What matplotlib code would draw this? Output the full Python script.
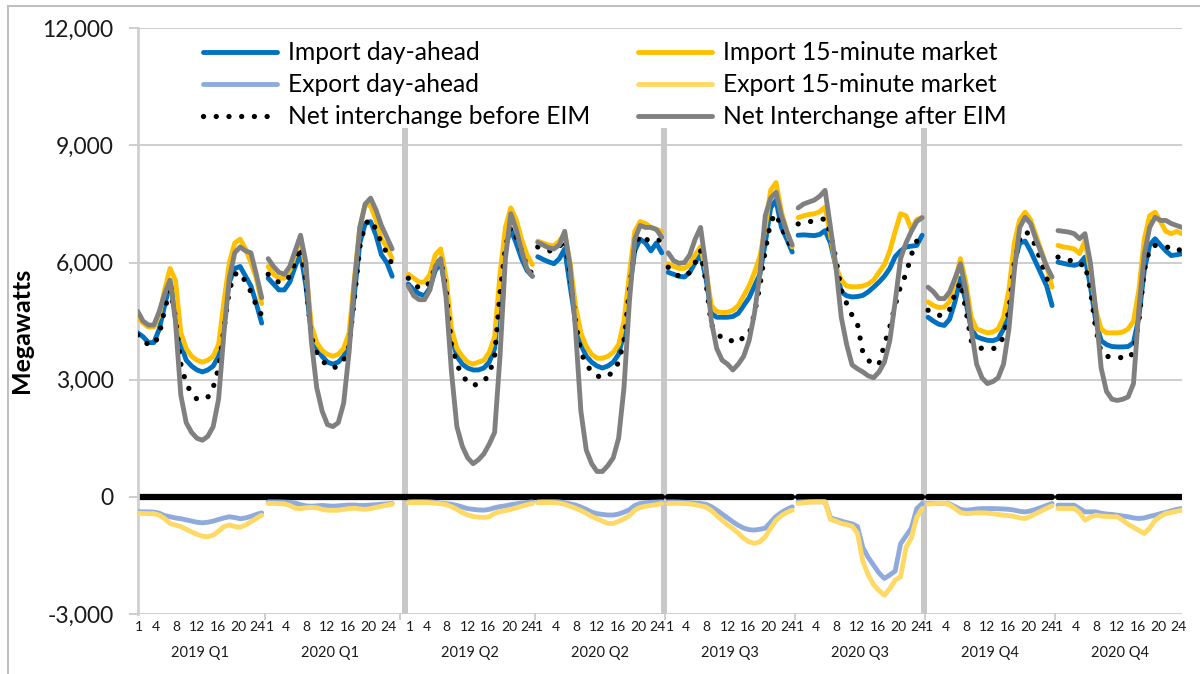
import matplotlib.pyplot as plt
from matplotlib.lines import Line2D
import numpy as np

plt.rcParams['font.family'] = ['Lato', 'DejaVu Sans']

# ---- data ----
groups = ['2019 Q1', '2020 Q1', '2019 Q2', '2020 Q2', '2019 Q3', '2020 Q3', '2019 Q4', '2020 Q4']
hours = list(range(1, 25))
hour_labels = [1, 4, 8, 12, 16, 20, 24]
y_ticks = [-3000, 0, 3000, 6000, 9000, 12000]
y_tick_labels = ['-3,000', '0', '3,000', '6,000', '9,000', '12,000']

import_da = [
    [4200, 4100, 3950, 3950, 4300, 4900, 5500, 5000, 3900, 3500, 3350, 3250, 3200, 3250, 3350, 3600, 4600, 5500, 5850, 5900, 5650, 5400, 4950, 4450],
    [5600, 5450, 5300, 5300, 5500, 5900, 6250, 5400, 4200, 3800, 3600, 3450, 3400, 3450, 3600, 3900, 5200, 6500, 7000, 7050, 6700, 6200, 6000, 5650],
    [5450, 5300, 5200, 5150, 5350, 5800, 6000, 5300, 4100, 3600, 3400, 3300, 3250, 3250, 3300, 3450, 3800, 5300, 6400, 6850, 6500, 6100, 5800, 5650],
    [6150, 6080, 6020, 5970, 6100, 6350, 5400, 4500, 3900, 3600, 3450, 3350, 3300, 3350, 3450, 3650, 4200, 5300, 6300, 6600, 6500, 6300, 6500, 6250],
    [5750, 5700, 5650, 5630, 5750, 6000, 6220, 5600, 4700, 4600, 4600, 4600, 4620, 4700, 4900, 5100, 5400, 5700, 6500, 7400, 7600, 6900, 6600, 6270],
    [6700, 6710, 6700, 6690, 6720, 6820, 6500, 5900, 5250, 5150, 5120, 5130, 5160, 5250, 5370, 5500, 5650, 5850, 6150, 6300, 6400, 6420, 6440, 6700],
    [4600, 4500, 4420, 4390, 4550, 5000, 5600, 5000, 4300, 4100, 4050, 4010, 4000, 4050, 4300, 4900, 6000, 6500, 6550, 6300, 6000, 5700, 5400, 4900],
    [6010, 5980, 5950, 5930, 5970, 6140, 5400, 4500, 4000, 3900, 3850, 3840, 3840, 3850, 3950, 4600, 5800, 6450, 6610, 6450, 6300, 6180, 6200, 6225],
]
import_15 = [
    [4600, 4450, 4350, 4350, 4650, 5300, 5850, 5550, 4200, 3800, 3600, 3500, 3450, 3500, 3600, 3900, 5000, 6000, 6500, 6600, 6350, 6000, 5600, 4950],
    [5900, 5700, 5600, 5600, 5800, 6200, 6650, 5800, 4400, 3950, 3750, 3650, 3600, 3650, 3800, 4200, 5600, 6900, 7500, 7450, 7100, 6600, 6400, 6100],
    [5700, 5600, 5500, 5500, 5700, 6200, 6350, 5600, 4300, 3800, 3600, 3450, 3400, 3450, 3500, 3700, 4100, 5700, 6900, 7400, 7100, 6600, 6200, 5950],
    [6550, 6500, 6450, 6430, 6550, 6750, 6000, 4900, 4200, 3850, 3650, 3550, 3550, 3600, 3700, 3900, 4500, 5700, 6800, 7050, 7000, 6900, 6850, 6800],
    [5970, 5900, 5850, 5850, 5950, 6200, 6400, 5800, 4900, 4750, 4720, 4730, 4780, 4900, 5150, 5400, 5750, 6150, 6900, 7850, 8050, 7300, 6800, 6400],
    [7150, 7200, 7230, 7250, 7300, 7420, 6700, 5900, 5550, 5400, 5380, 5380, 5400, 5450, 5550, 5750, 5950, 6300, 6800, 7250, 7200, 6850, 7100, 7160],
    [4990, 4900, 4850, 4860, 5000, 5500, 6100, 5500, 4600, 4300, 4250, 4200, 4220, 4300, 4600, 5300, 6500, 7100, 7290, 7100, 6700, 6300, 5900, 5370],
    [6440, 6400, 6380, 6350, 6230, 6560, 5800, 4800, 4300, 4200, 4200, 4200, 4220, 4300, 4500, 5300, 6600, 7200, 7290, 7050, 6800, 6740, 6800, 6740],
]
export_da = [
    [-380, -385, -385, -390, -420, -480, -510, -540, -560, -590, -620, -650, -665, -650, -620, -580, -540, -510, -530, -560, -540, -500, -450, -410],
    [-130, -130, -130, -135, -140, -160, -200, -230, -240, -230, -220, -230, -240, -230, -220, -210, -210, -220, -220, -210, -200, -190, -180, -170],
    [-130, -125, -125, -125, -130, -140, -160, -175, -190, -220, -260, -300, -320, -335, -340, -320, -280, -250, -230, -200, -180, -160, -145, -130],
    [-130, -125, -125, -125, -130, -150, -180, -210, -260, -320, -390, -430, -450, -465, -465, -440, -390, -330, -220, -170, -150, -140, -135, -130],
    [-130, -130, -135, -140, -150, -160, -170, -190, -250, -340, -440, -540, -640, -730, -800, -840, -850, -830, -800, -650, -500, -400, -320, -256],
    [-130, -128, -125, -125, -125, -128, -540, -580, -620, -660, -690, -760, -1300, -1550, -1750, -1950, -2090, -2000, -1900, -1200, -1000, -800, -300, -170],
    [-170, -170, -170, -170, -180, -250, -320, -340, -330, -310, -300, -300, -300, -305, -310, -320, -340, -370, -385, -360, -320, -270, -220, -170],
    [-213, -213, -213, -213, -300, -384, -384, -384, -420, -440, -450, -470, -490, -510, -540, -553, -540, -500, -470, -430, -400, -360, -320, -298],
]
export_15 = [
    [-420, -425, -430, -430, -470, -560, -680, -720, -760, -830, -900, -960, -1010, -1020, -980, -880, -760, -720, -760, -780, -720, -640, -550, -470],
    [-170, -170, -175, -180, -220, -290, -300, -280, -270, -280, -320, -340, -345, -340, -320, -300, -290, -310, -320, -300, -270, -240, -210, -190],
    [-150, -145, -145, -145, -150, -160, -175, -200, -250, -320, -400, -460, -500, -520, -525, -510, -420, -380, -350, -320, -280, -240, -200, -170],
    [-150, -145, -145, -150, -160, -190, -240, -290, -350, -420, -500, -560, -620, -680, -680, -630, -560, -480, -340, -270, -240, -220, -200, -170],
    [-170, -165, -165, -170, -180, -200, -230, -260, -350, -480, -600, -720, -810, -930, -1060, -1150, -1190, -1150, -1020, -800, -600, -480, -400, -340],
    [-170, -150, -135, -130, -128, -128, -580, -620, -680, -710, -750, -930, -1650, -2000, -2250, -2400, -2520, -2350, -2130, -2050, -1300, -1050, -520, -300],
    [-187, -175, -170, -170, -200, -300, -400, -430, -420, -410, -410, -415, -430, -450, -470, -480, -500, -540, -553, -500, -430, -360, -290, -230],
    [-298, -298, -298, -298, -400, -597, -520, -469, -490, -500, -510, -512, -600, -700, -780, -860, -937, -800, -597, -500, -426, -400, -370, -341],
]
net_before = [
    [4150, 4000, 3900, 3900, 4150, 4800, 5300, 4600, 3400, 2900, 2650, 2500, 2500, 2550, 2800, 3300, 4300, 5300, 5700, 5750, 5500, 5250, 4900, 4650],
    [5700, 5550, 5500, 5500, 5650, 6000, 6400, 5500, 4100, 3700, 3500, 3350, 3300, 3350, 3500, 3850, 5100, 6400, 7000, 7100, 6850, 6500, 6250, 5950],
    [5600, 5450, 5350, 5350, 5500, 5900, 6100, 5300, 3900, 3400, 3100, 2950, 2850, 2900, 2950, 3150, 3600, 5200, 6400, 6900, 6650, 6300, 5900, 5700],
    [6400, 6350, 6300, 6300, 6400, 6600, 5700, 4500, 3700, 3400, 3200, 3100, 3050, 3100, 3200, 3450, 4000, 5300, 6400, 6700, 6600, 6550, 6600, 6550],
    [5880, 5750, 5650, 5630, 5750, 6000, 6300, 5500, 4400, 4220, 4050, 4000, 4000, 3950, 4100, 4150, 4700, 5400, 6300, 7050, 7250, 6900, 6600, 6350],
    [6990, 7010, 7040, 7080, 7100, 7120, 6740, 6100, 5300, 4950, 4650, 4430, 3700, 3500, 3380, 3400, 3900, 4350, 4900, 5400, 5700, 6200, 6550, 6750],
    [4780, 4700, 4650, 4650, 4800, 5200, 5500, 4800, 4000, 3850, 3800, 3790, 3790, 3850, 4100, 4800, 6000, 6600, 6800, 6700, 6400, 6000, 5600, 5290],
    [6140, 6100, 6075, 6000, 5930, 5970, 5300, 4300, 3700, 3600, 3580, 3580, 3560, 3540, 3700, 4500, 5800, 6350, 6440, 6400, 6400, 6380, 6300, 6350],
]
net_after = [
    [4750, 4500, 4400, 4400, 4750, 5200, 5550, 4500, 2600, 1900, 1650, 1500, 1450, 1550, 1800, 2500, 4200, 5600, 6250, 6400, 6300, 6250, 5700, 5100],
    [6100, 5900, 5750, 5700, 5900, 6300, 6700, 6000, 4000, 2800, 2200, 1850, 1800, 1900, 2400, 3700, 5500, 6900, 7500, 7650, 7350, 6950, 6650, 6350],
    [5400, 5150, 5050, 5050, 5300, 5900, 6100, 5100, 3200, 1800, 1300, 1000, 850, 950, 1100, 1350, 1650, 3600, 6100, 7250, 6850, 6300, 5850, 5650],
    [6520, 6450, 6380, 6350, 6450, 6800, 5900, 4300, 2200, 1200, 850, 650, 650, 800, 1000, 1500, 2800, 5000, 6600, 6950, 6900, 6900, 6850, 6650],
    [6250, 6050, 5980, 6000, 6200, 6600, 6900, 5900, 4500, 3800, 3500, 3400, 3250, 3400, 3600, 4000, 4700, 5700, 7200, 7650, 7800, 7200, 6800, 6450],
    [7400, 7500, 7550, 7600, 7700, 7850, 6900, 5900, 4600, 3900, 3380, 3280, 3200, 3100, 3050, 3200, 3450, 4000, 5000, 6100, 6500, 6800, 7050, 7150],
    [5370, 5250, 5080, 5075, 5250, 5600, 5970, 5300, 4300, 3400, 3050, 2900, 2950, 3050, 3400, 4300, 5800, 6900, 7160, 7000, 6600, 6250, 5900, 5630],
    [6820, 6800, 6780, 6740, 6610, 6740, 6000, 4800, 3300, 2700, 2500, 2470, 2500, 2560, 2900, 4800, 6200, 6900, 7160, 7080, 7080, 7000, 6950, 6900],
]

# ---- layout (x in hour steps) ----
group_start = [0, 24.2, 50.2, 74.2, 98.4, 122.5, 146.6, 170.7]
separator_x = [49.6, 97.7, 145.9]
zero_runs = [[0, 1, 2, 3], [4], [5], [6], [7]]
label_nudge = {1: 0.25, 4: 0.35, 8: 0.1, 16: -0.2, 20: -0.35, 24: -0.75}
grid_col = '#C6C6C6'

series = [
    (import_da, 'Import day-ahead', dict(color='#0070C0')),
    (import_15, 'Import 15-minute market', dict(color='#FFC000')),
    (export_da, 'Export day-ahead', dict(color='#8FAADC')),
    (export_15, 'Export 15-minute market', dict(color='#FFD966')),
    (net_before, 'Net interchange before EIM', dict(color='black', linestyle=(0, (0.01, 2.4)), dash_capstyle='round', lw=3.8)),
    (net_after, 'Net Interchange after EIM', dict(color='#808080')),
]

fig = plt.figure(figsize=(12, 6.74), dpi=100)
ax = fig.add_axes([137.7 / 1200, 1 - 614 / 674, (1182 - 137.7) / 1200, (614 - 28.3) / 674])

for y in y_ticks:
    ax.axhline(y, color=grid_col, lw=1.2, zorder=0)

ax.vlines(separator_x, -3000, 9450, color='#C8C8C8', lw=4.3, zorder=1)

def xpos(g):
    return [group_start[g] + h - 1 for h in hours]

for run in zero_runs:
    xs = [x for g in run for x in xpos(g)]
    ax.plot(xs, np.zeros(len(xs)), color='black', lw=4.5, solid_capstyle='round', zorder=2)

handles = {}
for z, (data, label, style) in enumerate(series):
    kw = dict(lw=3.5, solid_capstyle='round', solid_joinstyle='round')
    kw.update(style)
    for g in range(len(groups)):
        line, = ax.plot(xpos(g), data[g], zorder=3 + z, **kw)
    handles[label] = line

ax.set_xlim(0, group_start[-1] + 23)
ax.set_ylim(-3000, 12000)
ax.set_yticks(y_ticks)
ax.set_yticklabels(y_tick_labels)
ax.tick_params(axis='y', length=6.5, width=1.2, color=grid_col, pad=11, labelsize=16.5, labelcolor='#1a1a1a')

xt, xl = [], []
for g in range(len(groups)):
    for h in hour_labels:
        xt.append(group_start[g] + h - 1 + label_nudge.get(h, 0))
        xl.append(str(h))
ax.set_xticks(xt)
ax.set_xticklabels(xl)
ax.tick_params(axis='x', which='major', length=0, pad=5, labelsize=10, labelcolor='#1a1a1a')
bounds = [(group_start[g] + 23 + group_start[g + 1]) / 2 for g in range(len(groups) - 1)]
ax.set_xticks(bounds, minor=True)
ax.tick_params(axis='x', which='minor', length=4, width=1.2, color=grid_col)

for g, name in enumerate(groups):
    ax.text(group_start[g] + 11.5, -0.066, name, transform=ax.get_xaxis_transform(),
            ha='center', va='center', fontsize=10.5, color='#1a1a1a')

for s in ['top', 'right', 'bottom']:
    ax.spines[s].set_visible(False)
ax.spines['left'].set_color('#D0D0D0')
ax.spines['left'].set_linewidth(2)

ax.set_ylabel('Megawatts', fontsize=18, fontweight='bold')
ax.yaxis.set_label_coords(-0.1003, 0.485)

col1 = ['Import day-ahead', 'Export day-ahead', 'Net interchange before EIM']
col2 = ['Import 15-minute market', 'Export 15-minute market', 'Net Interchange after EIM']
leg_kw = dict(loc='upper left', frameon=False, fontsize=17.7, handlelength=3.0, handletextpad=0.45,
              labelspacing=0.37, borderpad=0, borderaxespad=0)
leg1 = ax.legend([handles[l] for l in col1], col1, bbox_to_anchor=(0.0625, 0.978), **leg_kw)
ax.add_artist(leg1)
ax.legend([handles[l] for l in col2], col2, bbox_to_anchor=(0.479, 0.978), **leg_kw)

fig.add_artist(Line2D([0.0067, 0.0067], [0, 0.991], color='#BFBFBF', lw=1.5))
fig.add_artist(Line2D([0.0067, 1.0], [0.991, 0.991], color='#BFBFBF', lw=1.5))

plt.savefig('out.png', dpi=100)
